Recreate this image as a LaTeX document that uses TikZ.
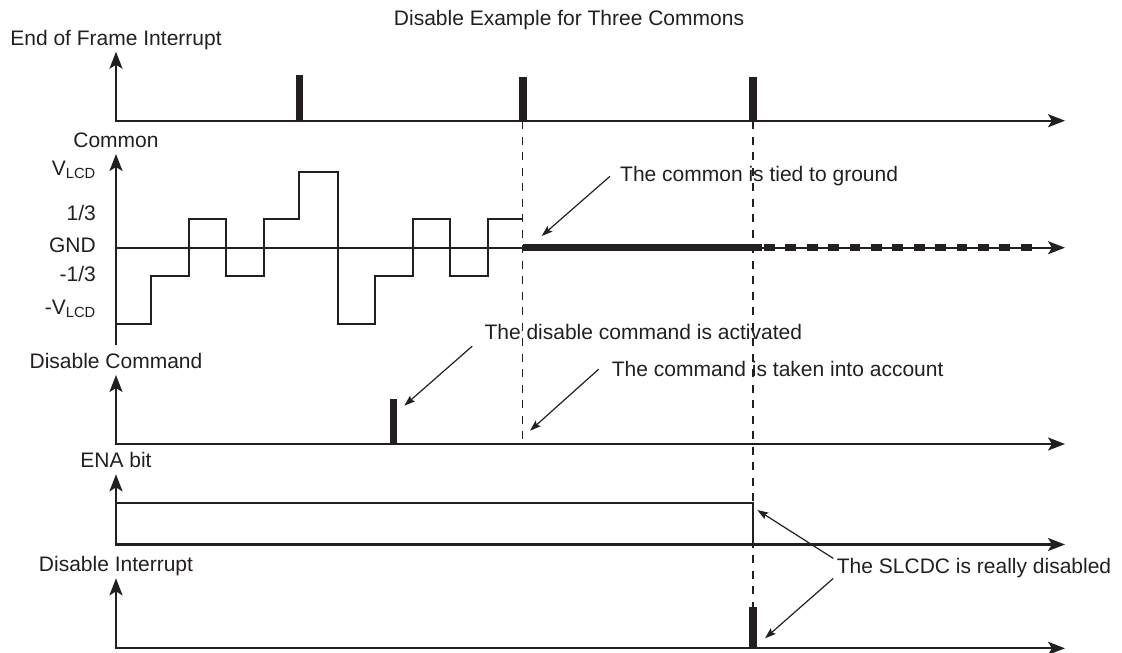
\documentclass[tikz,border=0pt]{standalone}
\usepackage{fontspec}
\setmainfont{Liberation Sans}
\usepackage{tikz}
\usetikzlibrary{arrows.meta, calc}
\definecolor{tikzink}{HTML}{231F20}

\begin{document}
\begin{tikzpicture}[x=1pt, y=-1pt, tikzink,
    >={Stealth[length=17pt, width=13pt, inset=4pt]},
    txt/.style={font=\fontsize{21}{25}\selectfont, inner sep=0pt},
    axis/.style={line width=2.3pt, line join=miter},
    signal/.style={line width=2.3pt, line join=miter},
    pulse/.style={line width=7.3pt},
    guide/.style={line width=1.3pt, dash pattern=on 8pt off 7.5pt},
    pointer/.style={line width=1.2pt, -{Stealth[length=11pt, width=7.5pt, inset=2pt]}}]
  \useasboundingbox (0,0) rectangle (1122,653);
  \node[txt, anchor=base] (title) at (569,25) {Disable Example for Three Commons};

  % axes with their labels
  \foreach \base/\tip/\name/\lbl in {120.7/51.7/eof/End of Frame Interrupt,
      444/375/cmd/Disable Command, 544.5/474.3/ena/ENA bit,
      648.3/578.3/irq/Disable Interrupt}{
    \draw[axis, <->] (116,\tip) -- (116,\base) -- (1065,\base);
    \node[txt, anchor=base] (\name) at (116,\tip-6.4) {\lbl};
  }
  \draw[axis, ->] (116,345) -- (116,154);
  \draw[axis, ->] (116,247.7) -- (1065,247.7);
  \node[txt, anchor=base] (com) at (116,147.7) {Common};

  % common levels
  \node[txt, anchor=base east] (vhi) at (96,175) {V\textsubscript{LCD}};
  \node[txt, anchor=base east] (third) at (96,220) {1/3};
  \node[txt, anchor=base east] (gnd) at (96,252.3) {GND};
  \node[txt, anchor=base east] (mthird) at (96,281.7) {-1/3};
  \node[txt, anchor=base east] (vlo) at (96,314) {-V\textsubscript{LCD}};

  % guides
  \draw[guide] (522.7,121) -- (522.7,444);
  \draw[guide] (753,121) -- (753,648);

  % signals
  \draw[signal] (116,324) -- (150.7,324) -- (150.7,275.7) -- (188.7,275.7)
    -- (188.7,219.3) -- (225.7,219.3) -- (225.7,275.7) -- (264.3,275.7)
    -- (264.3,219.3) -- (299.3,219.3) -- (299.3,172.3) -- (337.7,172.3)
    -- (337.7,324) -- (375,324) -- (375,275.7) -- (413,275.7)
    -- (413,219.3) -- (450,219.3) -- (450,275.7) -- (488,275.7)
    -- (488,219.3) -- (522.7,219.3);
  \draw[line width=6.5pt] (522.7,247.7) -- (762,247.7);
  \draw[line width=6.5pt, dash pattern=on 10.7pt off 10.7pt] (764,247.7) -- (1032,247.7);
  \draw[signal] (116,503.3) -- (752.7,503.3) -- (752.7,544.5);

  \draw[pulse] (299.7,120.7) -- (299.7,75);
  \draw[pulse] (523,120.7) -- (523,76.7);
  \draw[pulse] (753,120.7) -- (753,77);
  \draw[pulse] (393.7,444) -- (393.7,399.3);
  \draw[pulse] (753,648.3) -- (753,606.7);

  % notes
  \node[txt, anchor=base west] (tied) at (620,181.7) {The common is tied to ground};
  \node[txt, anchor=base west] (activated) at (484.3,339.3) {The disable command is activated};
  \node[txt, anchor=base west] (taken) at (611.7,376.7) {The command is taken into account};
  \node[txt, anchor=base west] (slcdc) at (836.7,573.3) {The SLCDC is really disabled};

  \coordinate (gndpt) at (541.7,236);
  \coordinate (cmdpt) at (404.3,405.7);
  \coordinate (takenpt) at (530,430.7);
  \coordinate (enapt) at (757.3,510);
  \coordinate (irqpt) at (765,638.3);

  \draw[pointer] ([xshift=-10pt]tied.west) -- (gndpt);
  \draw[pointer] ([shift={(-12pt,-6.4pt)}]activated.south west) -- (cmdpt);
  \draw[pointer] ([xshift=-13pt]taken.west) -- (takenpt);
  \draw[pointer] ([shift={(-3.4pt,9.5pt)}]slcdc.west) -- (enapt);
  \draw[pointer] ([shift={(-3.4pt,-10.5pt)}]slcdc.west) -- (irqpt);
\end{tikzpicture}
\end{document}
